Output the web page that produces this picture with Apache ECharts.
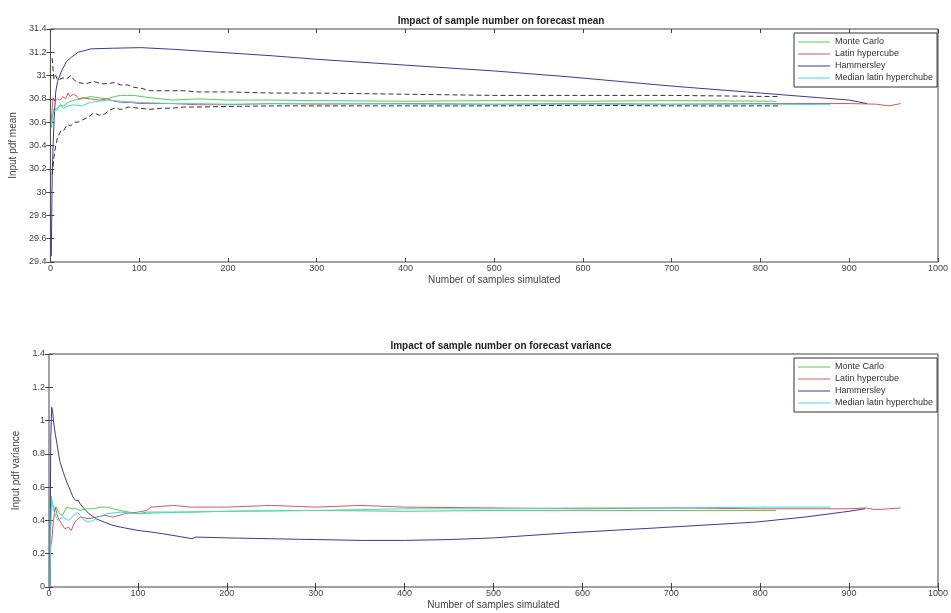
<!DOCTYPE html>
<html>
<head>
<meta charset="utf-8">
<script src="https://cdn.jsdelivr.net/npm/echarts@6/dist/echarts.min.js"></script>
<style>
html, body { margin: 0; padding: 0; background: #fff; }
#chart { width: 951px; height: 613px; }
</style>
</head>
<body>
<div id="chart"></div>
<script>
// forecast mean vs number of samples
var hamMeanX = [1,2,3,4,6,8,12,18,24,31,46,70,102,140,170,200,250,300,400,500,583,700,800,900,920];
var hamMeanY = [29.45,30.15,30.4,30.6,30.86,30.95,31.03,31.12,31.16,31.2,31.23,31.235,31.24,31.225,31.21,31.195,31.17,31.14,31.09,31.04,30.99,30.91,30.85,30.79,30.76];

var lhcMeanX = [1,2,3,5,8,11,14,17,20,22,24,26,28,30,32,36,45,55,64,72,80,90,100,120,137,166,200,250,300,400,500,600,700,800,900,930,945,958];
var lhcMeanY = [30.6,30.72,30.81,30.78,30.8,30.79,30.82,30.8,30.85,30.82,30.81,30.84,30.85,30.82,30.8,30.81,30.8,30.79,30.8,30.78,30.77,30.77,30.76,30.76,30.76,30.75,30.75,30.76,30.755,30.76,30.755,30.76,30.755,30.76,30.76,30.755,30.74,30.76];

var mcMeanX = [1,2,4,7,11,15,20,27,35,45,55,64,72,79,87,94,103,112,125,137,166,200,250,300,400,500,600,700,818];
var mcMeanY = [30.55,30.62,30.72,30.7,30.75,30.74,30.77,30.79,30.8,30.82,30.81,30.8,30.82,30.83,30.83,30.83,30.82,30.81,30.8,30.79,30.8,30.79,30.79,30.785,30.78,30.785,30.78,30.785,30.78];

var medMeanX = [1,2,4,7,11,15,20,27,35,45,55,64,80,100,137,166,200,300,400,500,600,700,800,879];
var medMeanY = [30.58,30.65,30.69,30.72,30.74,30.72,30.74,30.75,30.74,30.77,30.78,30.79,30.78,30.77,30.76,30.76,30.755,30.76,30.755,30.75,30.755,30.75,30.755,30.75];

var upperX = [2,3,4,6,8,10,14,18,23,27,31,40,49,57,64,72,79,87,94,103,112,125,137,150,166,200,250,300,400,500,600,700,820];
var upperY = [31.15,31.05,30.97,31.0,30.96,30.96,30.98,30.97,31.0,30.96,30.94,30.93,30.95,30.93,30.93,30.94,30.92,30.92,30.9,30.89,30.87,30.87,30.87,30.87,30.86,30.86,30.85,30.85,30.84,30.83,30.83,30.83,30.82];

var lowerX = [2,3,4,6,8,10,12,15,19,23,27,31,36,42,49,55,61,66,72,80,88,100,112,125,137,150,163,200,250,300,400,500,600,700,820];
var lowerY = [30.15,30.22,30.3,30.4,30.47,30.5,30.53,30.53,30.58,30.57,30.6,30.6,30.62,30.64,30.68,30.66,30.67,30.7,30.72,30.71,30.73,30.72,30.71,30.72,30.72,30.73,30.73,30.735,30.74,30.74,30.74,30.74,30.745,30.74,30.74];

// forecast variance vs number of samples
var hamVarX = [1,2,3,4,5,7,9,12,16,20,24,27,30,33,35,38,45,53,62,72,85,100,115,128,145,161,165,200,250,300,350,400,450,500,583,683,795,850,900,918];
var hamVarY = [0,0.9,1.08,1.06,1.0,0.92,0.86,0.76,0.69,0.63,0.58,0.54,0.52,0.52,0.5,0.48,0.44,0.41,0.39,0.37,0.355,0.34,0.33,0.32,0.305,0.29,0.3,0.295,0.29,0.285,0.28,0.28,0.285,0.295,0.325,0.355,0.39,0.42,0.455,0.47];

var lhcVarX = [1,2,3,4,5,7,10,14,18,22,25,29,35,45,53,63,72,85,100,110,115,140,160,200,250,300,350,400,500,600,700,800,900,918,930,945,958];
var lhcVarY = [0,0.25,0.27,0.26,0.4,0.48,0.42,0.38,0.35,0.36,0.34,0.39,0.42,0.41,0.42,0.43,0.42,0.44,0.45,0.46,0.48,0.49,0.48,0.48,0.49,0.48,0.49,0.48,0.475,0.47,0.475,0.47,0.47,0.475,0.465,0.47,0.475];

var mcVarX = [1,2,3,4,6,8,10,12,15,20,25,30,35,42,50,58,65,72,80,90,100,110,130,160,200,300,400,500,600,700,818];
var mcVarY = [0,0.55,0.53,0.5,0.45,0.48,0.46,0.44,0.43,0.48,0.47,0.47,0.46,0.47,0.47,0.48,0.48,0.47,0.46,0.45,0.44,0.45,0.45,0.45,0.455,0.46,0.455,0.46,0.46,0.46,0.46];

var medVarX = [1,2,3,4,6,8,10,15,22,28,32,35,40,45,50,55,65,80,100,150,200,300,400,500,600,700,800,879];
var medVarY = [0,0.35,0.52,0.5,0.45,0.42,0.4,0.42,0.4,0.43,0.45,0.43,0.4,0.39,0.4,0.42,0.44,0.45,0.44,0.45,0.455,0.46,0.47,0.47,0.475,0.475,0.48,0.48];

var names = ['Monte Carlo', 'Latin hypercube', 'Hammersley', 'Median latin hyperchube'];
var colors = ['#55cc55', '#d65a5a', '#3b3b98', '#44dada'];

function pts(xs, ys) {
    var out = [];
    for (var i = 0; i < Math.min(xs.length, ys.length); i++) out.push([xs[i], ys[i]]);
    return out;
}

function line(name, color, xi, yi, data, dashed) {
    return {
        name: name,
        type: 'line',
        xAxisIndex: xi,
        yAxisIndex: yi,
        data: data,
        showSymbol: false,
        symbol: 'none',
        animation: false,
        lineStyle: { color: color, width: 1, type: dashed ? [5, 3] : 'solid' },
        itemStyle: { color: color }
    };
}

var lbl = { fontFamily: 'Liberation Sans, Arial, sans-serif', fontSize: 9, color: '#444',
            formatter: function (v) { return String(v); } };
var tick = { inside: true, length: 4, lineStyle: { color: '#444' } };

function xAxes(gi) {
    return [
        { gridIndex: gi, type: 'value', min: 0, max: 1000, interval: 100, position: 'bottom',
          splitLine: { show: false }, axisLine: { show: false }, axisTick: tick,
          axisLabel: Object.assign({ margin: 2 }, lbl),
          name: 'Number of samples simulated', nameLocation: 'middle', nameGap: 13,
          nameTextStyle: { fontFamily: 'Liberation Sans, Arial, sans-serif', fontSize: 10, color: '#444' } },
        { gridIndex: gi, type: 'value', min: 0, max: 1000, interval: 100, position: 'top',
          splitLine: { show: false }, axisLine: { show: false }, axisTick: tick, axisLabel: { show: false } }
    ];
}

function yAxes(gi, min, max, step, name) {
    return [
        { gridIndex: gi, type: 'value', min: min, max: max, interval: step, position: 'left',
          splitLine: { show: false }, axisLine: { show: false }, axisTick: tick,
          axisLabel: Object.assign({ margin: 4 }, lbl),
          name: name, nameLocation: 'middle', nameGap: 26,
          nameTextStyle: { fontFamily: 'Liberation Sans, Arial, sans-serif', fontSize: 10, color: '#444' } },
        { gridIndex: gi, type: 'value', min: min, max: max, interval: step, position: 'right',
          splitLine: { show: false }, axisLine: { show: false }, axisTick: tick, axisLabel: { show: false } }
    ];
}

function legend(top) {
    return {
        data: names,
        orient: 'vertical',
        left: 794, top: top,
        icon: 'rect', itemWidth: 32, itemHeight: 1, itemGap: 0,
        padding: [3, 4, 3, 4],
        borderColor: '#333', borderWidth: 1, backgroundColor: '#fff',
        textStyle: { fontFamily: 'Liberation Sans, Arial, sans-serif', fontSize: 9, lineHeight: 12, color: '#333' }
    };
}

var dom = document.getElementById('chart');
var myChart = echarts.init(dom);

var option = {
    backgroundColor: '#fff',
    animation: false,
    title: [
        { text: 'Impact of sample number on forecast mean', left: 496, top: 11, textAlign: 'center',
          textStyle: { fontFamily: 'Liberation Sans, Arial, sans-serif', fontSize: 10, fontWeight: 'bold', color: '#222' } },
        { text: 'Impact of sample number on forecast variance', left: 496, top: 336, textAlign: 'center',
          textStyle: { fontFamily: 'Liberation Sans, Arial, sans-serif', fontSize: 10, fontWeight: 'bold', color: '#222' } }
    ],
    legend: [legend(33), legend(358)],
    grid: [
        { left: 49, top: 29, width: 894, height: 233, show: true, borderColor: '#444', borderWidth: 1, backgroundColor: '#fff' },
        { left: 49, top: 354, width: 894, height: 233, show: true, borderColor: '#444', borderWidth: 1, backgroundColor: '#fff' }
    ],
    xAxis: xAxes(0).concat(xAxes(1)),
    yAxis: yAxes(0, 29.4, 31.4, 0.2, 'Input pdf mean').concat(yAxes(1, 0, 1.4, 0.2, 'Input pdf variance')),
    series: [
        line(names[0], colors[0], 0, 0, pts(mcMeanX, mcMeanY)),
        line(names[1], colors[1], 0, 0, pts(lhcMeanX, lhcMeanY)),
        line(names[2], colors[2], 0, 0, pts(hamMeanX, hamMeanY)),
        line(names[3], colors[3], 0, 0, pts(medMeanX, medMeanY)),
        line('upper bound', '#333', 0, 0, pts(upperX, upperY), true),
        line('lower bound', '#333', 0, 0, pts(lowerX, lowerY), true),
        line(names[0], colors[0], 2, 2, pts(mcVarX, mcVarY)),
        line(names[1], colors[1], 2, 2, pts(lhcVarX, lhcVarY)),
        line(names[2], colors[2], 2, 2, pts(hamVarX, hamVarY)),
        line(names[3], colors[3], 2, 2, pts(medVarX, medVarY))
    ]
};

myChart.setOption(option);
</script>
</body>
</html>
